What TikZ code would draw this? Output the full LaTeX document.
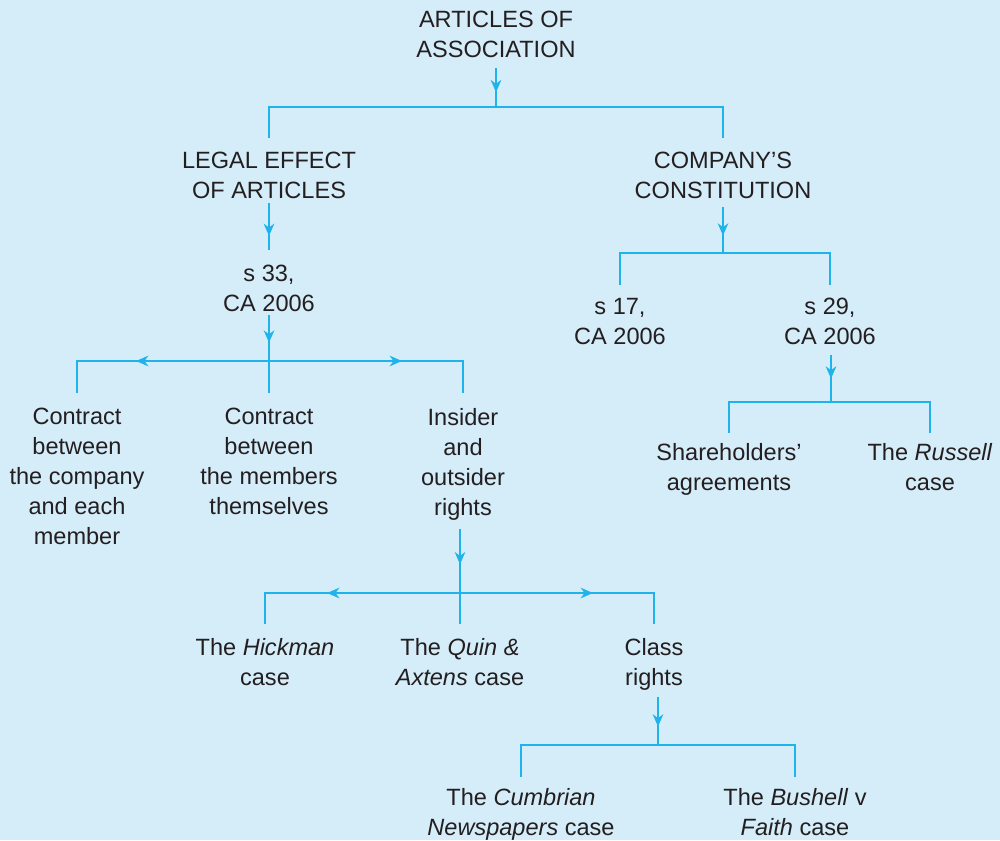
\documentclass[tikz,border=0pt]{standalone}
\usepackage{fontspec}
\setmainfont{Liberation Sans}
\usetikzlibrary{positioning}
\usetikzlibrary{calc}
\usetikzlibrary{arrows.meta,decorations.markings}

\definecolor{bgblue}{HTML}{D5ECF9}
\definecolor{linkblue}{HTML}{1EB4EB}
\definecolor{inkgrey}{HTML}{231F20}

\tikzset{
  box/.style={anchor=north, align=center, inner sep=0pt, text=inkgrey,
    font=\fontsize{13.4}{17}\selectfont},
  link/.style={draw=linkblue, color=linkblue, line width=1.1pt},
  headarrow/.tip={Stealth[length=7pt,width=6pt,inset=2.2pt]},
  % arrowhead part way down a line
  downarrow/.style={postaction={decorate},
    decoration={markings,mark=at position #1 with {\arrow{headarrow}}}},
  downarrow/.default=0.62,
  % arrowheads on the bus, pointing outwards
  outarrow/.style={postaction={decorate},
    decoration={markings,mark=at position 2.66cm with {\arrow{headarrow}}}}
}

\begin{document}
\begin{tikzpicture}[x=0.02cm,y=-0.02cm]
\fill[bgblue] (0,0) rectangle (1000,840);
\useasboundingbox (0,0) rectangle (1000,840);

% top levels
\node[box](articles) at (496,11){ARTICLES OF\\ASSOCIATION};
\node[box](legal) at (269,152){LEGAL EFFECT\\OF ARTICLES};
\node[box](constitution) at (723,152){COMPANY’S\\CONSTITUTION};

% sections
\node[box](s33) at (269,265){s 33,\\CA 2006};
\node[box](s17) at (620,298){s 17,\\CA 2006};
\node[box](s29) at (830,298){s 29,\\CA 2006};

% effect of s 33
\node[box](cmember) at (77,408){Contract\\between\\the company\\and each\\member};
\node[box](cmembers) at (269,408){Contract\\between\\the members\\themselves};
\node[box](insider) at (463,408){Insider\\and\\outsider\\rights};

% s 29
\node[box](sharehold) at (729,443){Shareholders’\\agreements};
\node[box](russell) at (930,443){The \textit{Russell}\\case};

% cases
\node[box](hickman) at (265,638){The \textit{Hickman}\\case};
\node[box](quin) at (460,638){The \textit{Quin \&}\\\textit{Axtens} case};
\node[box](classr) at (654,638){Class\\rights};
\node[box](cumbrian) at (521,788){The \textit{Cumbrian}\\\textit{Newspapers} case};
\node[box](bushell) at (795,788){The \textit{Bushell} v\\\textit{Faith} case};

% bus points
\coordinate (busA) at (496,107);
\coordinate (busB) at (269,361);
\coordinate (busC) at (723,253);
\coordinate (busD) at (831,402);
\coordinate (busE) at (460,593);
\coordinate (busF) at (658,745);

\draw[link,downarrow] ($(articles.south)+(0,10)$) -- (busA);
\draw[link] ($(legal.north)+(0,-14)$) |- (busA) -| ($(constitution.north)+(0,-14)$);

\draw[link,downarrow=0.7] ($(legal.south)+(0,4)$) -- ($(s33.north)+(0,-15)$);
\draw[link,downarrow] ($(constitution.south)+(0,8)$) -- (busC);
\draw[link] ($(s17.north)+(0,-13)$) |- (busC) -| ($(s29.north)+(0,-13)$);

\draw[link,downarrow=0.6] ($(s33.south)+(0,3)$) -- (busB);
\draw[link] (busB) -- ($(cmembers.north)+(0,-15)$);
\draw[link,outarrow] (busB) -| ($(cmember.north)+(0,-15)$);
\draw[link,outarrow] (busB) -| ($(insider.north)+(0,-15)$);

\draw[link,downarrow=0.5] ($(s29.south -| busD)+(0,10)$) -- (busD);
\draw[link] ($(sharehold.north)+(0,-10)$) |- (busD) -| ($(russell.north)+(0,-10)$);

\draw[link,downarrow=0.55] ($(insider.south -| busE)+(0,9)$) -- (busE);
\draw[link] (busE) -- ($(quin.north)+(0,-14)$);
\draw[link,outarrow] (busE) -| ($(hickman.north)+(0,-14)$);
\draw[link,outarrow] (busE) -| ($(classr.north)+(0,-14)$);

\draw[link,downarrow] ($(classr.south -| busF)+(0,6)$) -- (busF);
\draw[link] ($(cumbrian.north)+(0,-11)$) |- (busF) -| ($(bushell.north)+(0,-11)$);
\end{tikzpicture}
\end{document}
